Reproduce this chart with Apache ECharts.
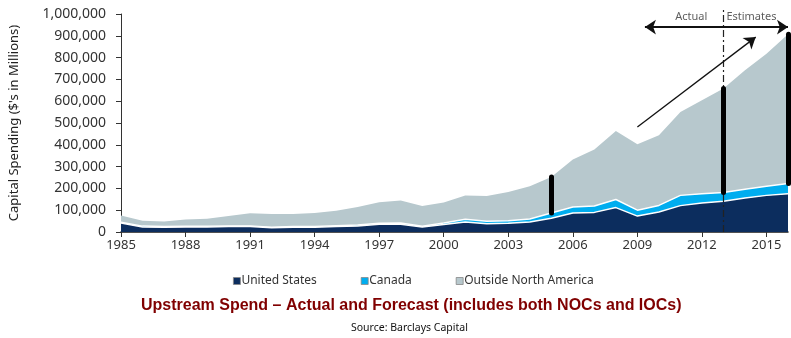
<!DOCTYPE html>
<html><head><meta charset="utf-8">
<script src="https://cdn.jsdelivr.net/npm/echarts@6/dist/echarts.min.js"></script>
<style>html,body{margin:0;padding:0;background:#fff}#c{width:791px;height:338px}</style>
</head><body><div id="c"></div>
<script>
var years = ['1985','1986','1987','1988','1989','1990','1991','1992','1993','1994','1995','1996','1997','1998','1999','2000','2001','2002','2003','2004','2005','2006','2007','2008','2009','2010','2011','2012','2013','2014','2015','2016'];
var unitedStates = [41000,23000,22000,23000,23000,25000,25000,19000,22000,22000,25000,28000,35000,36000,23000,34000,46000,38000,40000,46000,63000,87000,90000,112000,73000,92000,121000,133000,141000,156000,168000,176000];
var canada = [4000,4000,3000,3000,3000,3000,3000,3000,3000,3000,4000,4000,5000,5000,3000,7000,12000,11000,12000,14000,24000,28000,29000,37000,27000,30000,47000,43000,40000,40000,42000,46000];
var outsideNA = [31000,25000,23000,31000,35000,45000,58000,61000,58000,62000,69000,83000,96000,104000,93000,94000,110000,116000,131000,150000,165000,217000,259000,314000,302000,322000,383000,428000,477000,546000,608000,685000];
var seriesNames = ['United States','Canada','Outside North America'];
var highlightYears = ['2005','2013','2016'];
var splitYear = 2013;
var trendArrow = [[2009.0, 482000],[2014.5, 894000]];
var spanArrow = [[2009.35, 940000],[2016.0, 940000]];
var periodLabels = [{name:'Actual', value:[2011.5, 986000]},{name:'Estimates', value:[2014.3, 986000]}];

var colors = ['#0c2d5e','#00adef','#b7c8cd'];
var fam = '"Noto Sans", "Open Sans", sans-serif';

var barLines = highlightYears.map(function(y){
  var i = years.indexOf(y);
  var low = unitedStates[i] + canada[i];
  var high = low + outsideNA[i];
  return {coords: [[+y, low],[+y, high]]};
});

function fmt(v){ return String(v).replace(/\B(?=(\d{3})+(?!\d))/g, ','); }

var chart = echarts.init(document.getElementById('c'), null, {renderer:'canvas'});
chart.setOption({
  animation: false,
  color: colors,
  title: [
    {text: 'Upstream Spend \u2013 Actual and Forecast (includes both NOCs and IOCs)', left: 136, top: 293,
     textStyle: {fontFamily: '"Liberation Sans", Arial, sans-serif', fontWeight: 'bold', fontSize: 16, color: '#800000'}},
    {text: 'Source: Barclays Capital', left: 346, top: 318,
     textStyle: {fontFamily: fam, fontWeight: 'normal', fontSize: 10.5, color: '#111'}}
  ],
  legend: {
    data: seriesNames, top: 270, left: 228, itemGap: 44, itemWidth: 7, itemHeight: 7, icon: 'rect',
    itemStyle: {borderColor: '#888', borderWidth: 0.8},
    textStyle: {fontFamily: fam, fontSize: 12, color: '#333', padding: [0,0,0,-4]}
  },
  grid: {left: 119, right: 3, top: 14, bottom: 106, containLabel: false},
  xAxis: [
    {type: 'category', data: years, boundaryGap: false,
     axisLine: {lineStyle: {color: '#1a1a1a', width: 1.5}},
     axisTick: {interval: 2, length: 5, lineStyle: {color: '#333'}},
     axisLabel: {interval: 2, fontFamily: fam, fontSize: 13, color: '#333', margin: 7},
     splitLine: {show: false}},
    {type: 'value', min: 1985, max: 2016, show: false, splitLine: {show: false}}
  ],
  yAxis: {
    type: 'value', min: 0, max: 1000000, interval: 100000,
    name: "Capital Spending ($'s in Millions)", nameLocation: 'middle', nameGap: 100, nameRotate: 90,
    nameTextStyle: {fontFamily: fam, fontSize: 13, color: '#222'},
    axisLine: {show: true, lineStyle: {color: '#333'}},
    axisTick: {show: true, length: 5, lineStyle: {color: '#333'}},
    axisLabel: {fontFamily: fam, fontSize: 14, color: '#333', margin: 15, formatter: fmt},
    splitLine: {show: false}
  },
  series: [
    {name: seriesNames[0], type: 'line', stack: 'total', data: unitedStates, symbol: 'none', z: 4,
     lineStyle: {color: '#fff', width: 1.5}, areaStyle: {color: colors[0], opacity: 1}},
    {name: seriesNames[1], type: 'line', stack: 'total', data: canada, symbol: 'none', z: 3,
     lineStyle: {color: '#fff', width: 1.5}, areaStyle: {color: colors[1], opacity: 1}},
    {name: seriesNames[2], type: 'line', stack: 'total', data: outsideNA, symbol: 'none', z: 2,
     lineStyle: {width: 0}, areaStyle: {color: colors[2], opacity: 1}},
    {type: 'lines', coordinateSystem: 'cartesian2d', xAxisIndex: 1, yAxisIndex: 0, z: 6, clip: false,
     lineStyle: {color: '#000', width: 5, cap: 'round', opacity: 1}, data: barLines},
    {type: 'lines', coordinateSystem: 'cartesian2d', xAxisIndex: 1, yAxisIndex: 0, z: 5, clip: false,
     lineStyle: {color: '#222', width: 1.2, type: [7,3,2,3], opacity: 1},
     data: [{coords: [[splitYear, 0],[splitYear, 1020000]]}]},
    {type: 'lines', coordinateSystem: 'cartesian2d', xAxisIndex: 1, yAxisIndex: 0, z: 7, clip: false,
     symbol: ['none','arrow'], symbolSize: 11,
     lineStyle: {color: '#111', width: 1.3, opacity: 1}, data: [{coords: trendArrow}]},
    {type: 'lines', coordinateSystem: 'cartesian2d', xAxisIndex: 1, yAxisIndex: 0, z: 7, clip: false,
     symbol: ['arrow','arrow'], symbolSize: 11,
     lineStyle: {color: '#111', width: 1.8, opacity: 1}, data: [{coords: spanArrow}]},
    {type: 'scatter', xAxisIndex: 1, yAxisIndex: 0, symbolSize: 0, z: 8, clip: false, data: periodLabels,
     label: {show: true, position: 'inside', formatter: '{b}', fontFamily: fam, fontSize: 11, color: '#333'}}
  ]
});
</script></body></html>
